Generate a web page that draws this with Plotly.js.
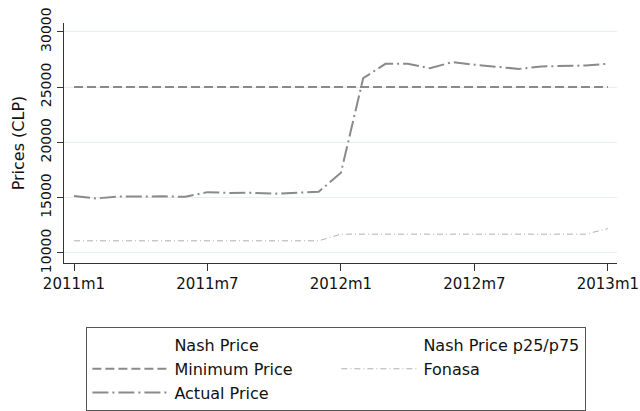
<!DOCTYPE html>
<html><head><meta charset="utf-8">
<script src="https://cdn.plot.ly/plotly-3.0.1.min.js"></script>
<style>html,body{margin:0;padding:0;background:#fff}#chart{width:640px;height:411px}</style>
</head><body><div id="chart"></div>
<script>
const months = ['2011m1','2011m2','2011m3','2011m4','2011m5','2011m6','2011m7','2011m8','2011m9','2011m10','2011m11','2011m12',
                '2012m1','2012m2','2012m3','2012m4','2012m5','2012m6','2012m7','2012m8','2012m9','2012m10','2012m11','2012m12','2013m1'];
const minimumPrice = [25000,25000,25000,25000,25000,25000,25000,25000,25000,25000,25000,25000,
                      25000,25000,25000,25000,25000,25000,25000,25000,25000,25000,25000,25000,25000];
const fonasa = [11100,11100,11100,11100,11100,11100,11100,11100,11100,11100,11100,11100,
                11700,11700,11700,11700,11700,11700,11700,11700,11700,11700,11700,11700,12200];
const actualPrice = [15140,14930,15100,15120,15120,15080,15500,15420,15440,15360,15470,15530,
                     17250,25800,27100,27100,26700,27250,27020,26800,26640,26860,26900,26950,27110];
// Nash series carry no visible values in this period
const nashPrice = [null,null,null,null,null,null,null,null,null,null,null,null,
                   null,null,null,null,null,null,null,null,null,null,null,null,null];
const nashP25P75 = [null,null,null,null,null,null,null,null,null,null,null,null,
                    null,null,null,null,null,null,null,null,null,null,null,null,null];
const xTicks = ['2011m1','2011m7','2012m1','2012m7','2013m1'];
const yTicks = [10000,15000,20000,25000,30000];
const yTickText = ['10000','15000','20000','25000','30000'];

const FONT = 'DejaVu Sans, sans-serif';
const traces = [
  {x: months, y: nashPrice, name: 'Nash Price', type: 'scatter', mode: 'lines',
   line: {color: 'rgba(0,0,0,0)', width: 1}},
  {x: months, y: nashP25P75, name: 'Nash Price p25/p75', type: 'scatter', mode: 'lines',
   line: {color: 'rgba(0,0,0,0)', width: 1}},
  {x: months, y: minimumPrice, name: 'Minimum Price', type: 'scatter', mode: 'lines',
   line: {color: '#8a8a8a', width: 2, dash: '9px,4px'}},
  {x: months, y: fonasa, name: 'Fonasa', type: 'scatter', mode: 'lines',
   line: {color: '#b0b0b0', width: 1, dash: '6px,3px,1px,3px'}},
  {x: months, y: actualPrice, name: 'Actual Price', type: 'scatter', mode: 'lines',
   line: {color: '#8a8a8a', width: 2, dash: '16px,4px,2px,4px'}}
];

const layout = {
  width: 640, height: 411,
  margin: {l: 64.3, r: 23.3, t: 23, b: 148, autoexpand: false},
  paper_bgcolor: '#fff', plot_bgcolor: '#fff',
  font: {family: FONT, color: '#111', size: 15},
  showlegend: true,
  xaxis: {
    type: 'category', range: [-0.45, 24.41],
    tickmode: 'array', tickvals: xTicks, ticktext: xTicks,
    showgrid: false, zeroline: false,
    showline: true, linecolor: '#333', linewidth: 1,
    ticks: 'outside', ticklen: 7, tickcolor: '#333',
    tickfont: {family: FONT, size: 15, color: '#111'}
  },
  yaxis: {
    range: [9093, 30790],
    tickmode: 'array', tickvals: yTicks, ticktext: yTickText,
    tickangle: -90,
    showgrid: true, gridcolor: '#e8eff1', gridwidth: 1,
    zeroline: false,
    showline: true, linecolor: '#333', linewidth: 1,
    ticks: 'outside', ticklen: 6, tickcolor: '#333',
    tickfont: {family: FONT, size: 14, color: '#111'},
    title: {text: 'Prices (CLP)', font: {family: FONT, size: 16, color: '#111'}, standoff: 9}
  },
  legend: {
    orientation: 'h', x: 0.0405, xanchor: 'left', y: -0.267, yanchor: 'top',
    bordercolor: '#555', borderwidth: 1, bgcolor: '#fff',
    font: {family: FONT, size: 16, color: '#111'},
    itemwidth: 77, entrywidth: 157, entrywidthmode: 'pixels',
    traceorder: 'normal'
  }
};
Plotly.newPlot('chart', traces, layout, {displayModeBar: false, staticPlot: true});
</script></body></html>
